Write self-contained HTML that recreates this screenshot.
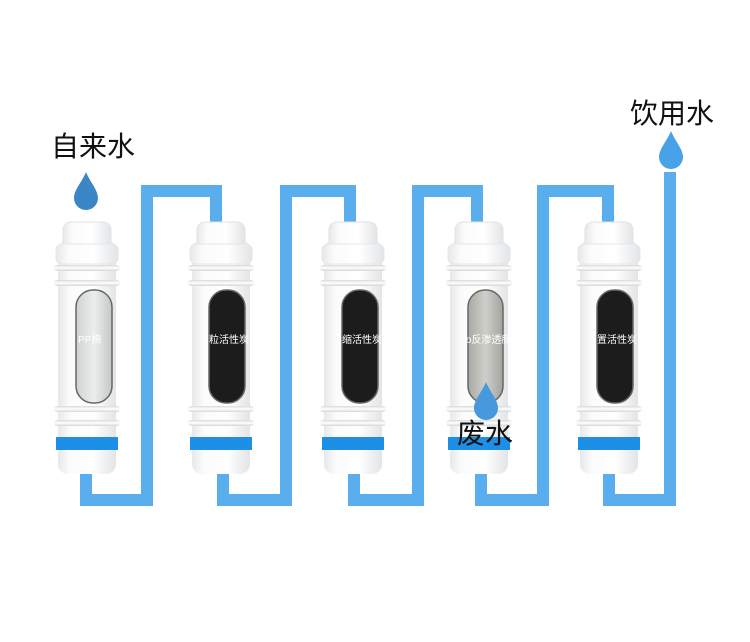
<!DOCTYPE html>
<html><head><meta charset="utf-8"><style>
html,body{margin:0;padding:0;background:#fff;}
svg{display:block;}
text{font-family:"Liberation Sans","Noto Sans CJK SC",sans-serif;}
</style></head><body>
<svg width="750" height="642" viewBox="0 0 750 642" xmlns="http://www.w3.org/2000/svg">
<defs>
<linearGradient id="body" x1="0" x2="1" y1="0" y2="0">
<stop offset="0" stop-color="#e6e8ea"/><stop offset="0.2" stop-color="#fbfbfb"/><stop offset="0.6" stop-color="#ffffff"/><stop offset="1" stop-color="#e2e4e6"/>
</linearGradient>
<linearGradient id="ring" x1="0" x2="0" y1="0" y2="1">
<stop offset="0" stop-color="#d8dadc"/><stop offset="0.5" stop-color="#ffffff"/><stop offset="1" stop-color="#d4d6d8"/>
</linearGradient>
<linearGradient id="pp" x1="0" x2="1"><stop offset="0" stop-color="#cfd1d2"/><stop offset="0.5" stop-color="#eceeee"/><stop offset="1" stop-color="#c4c6c7"/></linearGradient>
<linearGradient id="ro" x1="0" x2="1"><stop offset="0" stop-color="#a9a9a4"/><stop offset="0.5" stop-color="#cfcfca"/><stop offset="1" stop-color="#a3a39e"/></linearGradient>
<g id="cart">
<rect x="4" y="240" width="58" height="234" rx="10" fill="url(#body)"/>
<rect x="9" y="222" width="48" height="26" rx="8" fill="url(#body)" stroke="#e0e2e4"/>
<rect x="2" y="244" width="62" height="20" rx="6" fill="url(#body)" stroke="#e4e6e8"/>
<rect x="0" y="265" width="66" height="6" rx="3" fill="url(#ring)"/>
<rect x="0" y="280" width="66" height="6" rx="3" fill="url(#ring)"/>
<rect x="0" y="406" width="66" height="6" rx="3" fill="url(#ring)"/>
<rect x="0" y="420" width="66" height="6" rx="3" fill="url(#ring)"/>
<rect x="2" y="437" width="62" height="13" fill="#1e8fe6"/>
</g>
<path id="drop" d="M0,-18 C4,-8 12,0 12,8 A12,12 0 0 1 -12,8 C-12,0 -4,-8 0,-18 Z"/>
</defs>
<rect width="750" height="642" fill="#fff"/>
<!-- pipes -->
<g fill="none" stroke="#5aaeee" stroke-width="12" stroke-linejoin="miter">
<path d="M86,470 V500 H147 V191 H216 V225"/>
<path d="M223,470 V500 H286 V191 H350 V225"/>
<path d="M354,470 V500 H418 V191 H477 V225"/>
<path d="M481,470 V500 H543 V191 H608 V225"/>
<path d="M609,470 V500 H670 V172"/>
</g>
<!-- cartridges -->
<use href="#cart" x="54" y="0"/>
<use href="#cart" x="188" y="0"/>
<use href="#cart" x="320" y="0"/>
<use href="#cart" x="446" y="0"/>
<use href="#cart" x="576" y="0"/>
<!-- windows -->
<g stroke="#666" stroke-width="1.5">
<rect x="76" y="290" width="36" height="113" rx="17" fill="url(#pp)"/>
<rect x="209" y="290" width="36" height="113" rx="17" fill="#1c1c1c"/>
<rect x="342" y="290" width="36" height="113" rx="17" fill="#1c1c1c"/>
<rect x="468" y="290" width="35" height="113" rx="17" fill="url(#ro)"/>
<rect x="597" y="290" width="36" height="113" rx="17" fill="#1c1c1c"/>
</g>
<g fill="#fff" font-size="10">
<text x="78" y="343">PP棉</text>
<text x="209" y="343">粒活性炭</text>
<text x="342" y="343">缩活性炭</text>
<text x="466" y="343">o反渗透膜</text>
<text x="597" y="343">置活性炭</text>
</g>
<!-- labels -->
<g fill="#111" font-size="28">
<text x="51" y="156">自来水</text>
<text x="630" y="123">饮用水</text>
<text x="457" y="443">废水</text>
</g>
<use href="#drop" x="86" y="190" fill="#3a86c6"/>
<use href="#drop" x="671" y="149" fill="#47a2e8"/>
<use href="#drop" x="486" y="400" fill="#4798dc"/>
</svg>
</body></html>
